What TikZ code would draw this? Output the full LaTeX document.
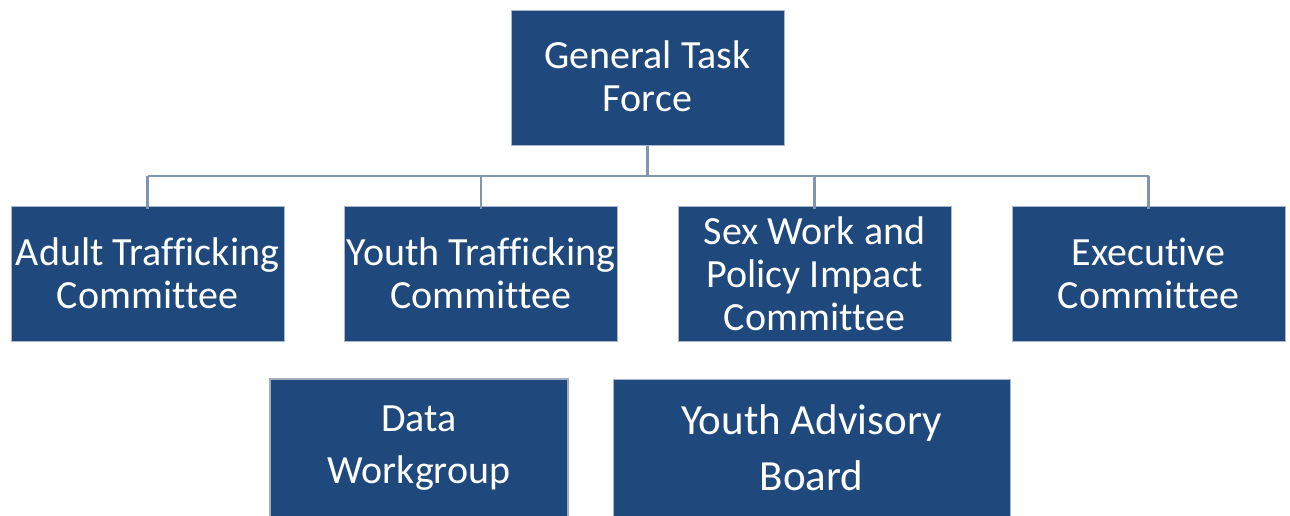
\documentclass[tikz,border=0pt]{standalone}
\usepackage{fontspec}
\setmainfont{Carlito}[Ligatures=NoCommon]
\definecolor{boxblue}{HTML}{1F497D}
\definecolor{boxedge}{HTML}{A9B8CC}
\definecolor{linkblue}{HTML}{7F95B2}
\begin{document}
\begin{tikzpicture}[x=1pt,y=-1pt,
  orgbox/.style={draw=boxedge, line width=1pt, fill=boxblue, text=white,
    minimum width=273pt, minimum height=135pt, inner sep=0pt, align=center,
    font=\fontsize{40}{43}\selectfont},
  bigtext/.style={text=white, align=center, inner sep=0pt},
  link/.style={draw=linkblue, line width=2.6pt}]
\useasboundingbox (0,0) rectangle (1290,516);
\clip (0,0) rectangle (1290,516);
\node[orgbox] (gtf) at (647.5,78.5) {};
\node[bigtext, font=\fontsize{40}{43}\selectfont] (gtftext) at (647.5,76.5) {General Task\\Force};
\node[orgbox] (adult) at (147.5,273.5) {Adult Trafficking\\Committee};
\node[orgbox] (youth) at (481,273.5) {Youth Trafficking\\Committee};
\node[orgbox] (sex) at (814.5,273.5) {Sex Work and\\Policy Impact\\Committee};
\node[orgbox] (exec) at (1148.5,273.5) {Executive\\Committee};
\node[orgbox, draw=boxedge!80!gray, line width=2pt, minimum width=298pt, minimum height=150pt] (data) at (419,454) {};
\node[bigtext, font=\fontsize{40}{52}\selectfont] (datatext) at (419,448) {Data\\Workgroup};
\node[orgbox, minimum width=397pt, minimum height=150pt] (yab) at (811.5,454) {};
\node[bigtext, font=\fontsize{43}{56}\selectfont] (yabtext) at (811.5,448) {Youth Advisory\\Board};
\coordinate (hub) at (647.5,176);
\draw[link] (gtf.south) -- (hub);
\draw[link] (adult.north |- hub) -- (exec.north |- hub);
\foreach \n in {adult,youth,sex,exec}{
  \draw[link] (\n.north |- hub) -- ([yshift=-3pt]\n.north);
}
\end{tikzpicture}
\end{document}
